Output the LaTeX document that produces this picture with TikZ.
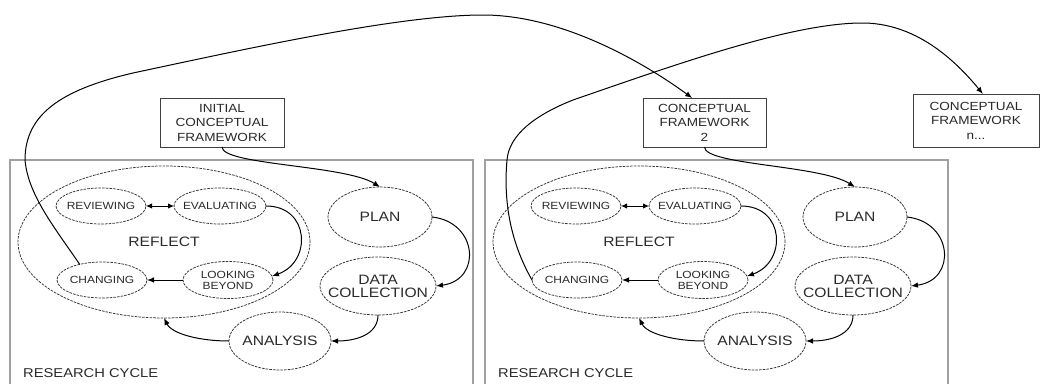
\documentclass[tikz,border=0pt]{standalone}
\usepackage{fontspec}
\setmainfont{Liberation Sans}[FakeStretch=1.15]
\usetikzlibrary{shapes.geometric,arrows.meta,calc}
\definecolor{txt}{HTML}{2A2A2A}
\definecolor{framec}{HTML}{A0A0A0}
\definecolor{dashc}{HTML}{333333}
\newcommand\rcpanel[2]{%
\begin{scope}[shift={(#2,0)}]
 \draw[panelframe] (10,160) rectangle (473,400);
 \node[ell, minimum width=292pt, minimum height=152pt] (#1refl) at (164,242) {};
 \node[ell, minimum width=90pt, minimum height=36pt] (#1rev) at (101,206) {};
 \node[ell, minimum width=92pt, minimum height=36pt] (#1eval) at (220,206) {};
 \node[ell, minimum width=90pt, minimum height=36pt] (#1chg) at (102,280) {};
 \node[ell, minimum width=90pt, minimum height=37pt] (#1look) at (228,280) {};
 \node[ell, minimum width=104pt, minimum height=60pt] (#1plan) at (380,217) {};
 \node[ell, minimum width=116pt, minimum height=58pt] (#1dc) at (378,286) {};
 \node[ell, minimum width=102pt, minimum height=58pt] (#1ana) at (280,341) {};
 \node[lblbig] (#1refltxt) at (#1refl) {REFLECT};
 \node[lblsmall] (#1revtxt) at (#1rev) {REVIEWING};
 \node[lblsmall] (#1evaltxt) at (#1eval) {EVALUATING};
 \node[lblsmall] (#1chgtxt) at (#1chg) {CHANGING};
 \node[lblsmall] (#1looktxt) at (#1look) {LOOKING\\BEYOND};
 \node[lblbig] (#1plantxt) at (#1plan) {PLAN};
 \node[lblbig] (#1dctxt) at (#1dc) {DATA\\COLLECTION};
 \node[lblbig] (#1anatxt) at (#1ana) {ANALYSIS};
 \node[lblrc, anchor=west] (#1rc) at (23,373) {RESEARCH CYCLE};
 \draw[dconn] (#1rev.east) -- (#1eval.west);
 \draw[conn] (#1eval.east) .. controls (310,206) and (312,262) .. (#1look.5);
 \draw[conn] (#1look.west) -- (#1chg.east);
 \draw[conn] (#1plan.east) .. controls (478,222) and (482,280) .. (#1dc.east);
 \draw[conn] (#1dc.south) .. controls (378,335) and (355,341) .. (#1ana.east);
 \draw[conn] (#1ana.west) .. controls (200,341) and (172,334) .. (#1refl.south);
\end{scope}}
\begin{document}
\begin{tikzpicture}[x=1pt,y=-1pt,
  ell/.style={ellipse, draw=dashc, dash pattern=on 2.6pt off 1.1pt, line width=0.75pt, inner sep=0pt, outer sep=0pt},
  lblbig/.style={text=txt, font=\fontsize{13.6}{13}\selectfont, align=center, inner sep=0pt},
  lblsmall/.style={text=txt, font=\fontsize{10.4}{11}\selectfont, align=center, inner sep=0pt},
  lblrc/.style={text=txt, font=\fontsize{12.8}{13}\selectfont, inner sep=0pt},
  cfbox/.style={draw=black!75, line width=0.9pt, inner sep=0pt, outer sep=0pt, text=txt, font=\fontsize{11.8}{14.5}\selectfont, align=center},
  conn/.style={line width=1pt, -{Latex[length=7pt,width=5.5pt]}},
  dconn/.style={line width=1pt, {Latex[length=6pt,width=5.5pt]}-{Latex[length=6pt,width=5.5pt]}},
  panelframe/.style={draw=framec, line width=1.3pt}]
\useasboundingbox[fill=white] (0,0) rectangle (1040,383);
\rcpanel{a}{0}
\rcpanel{b}{475}
\node[cfbox, minimum width=124pt, minimum height=49pt] (icf) at (222,122.5) {INITIAL\\CONCEPTUAL\\FRAMEWORK};
\node[cfbox, minimum width=123pt, minimum height=49pt] (cf2) at (704.5,122.5) {CONCEPTUAL\\FRAMEWORK\\2};
\node[cfbox, minimum width=126pt, minimum height=53pt] (cfn) at (976,120.5) {CONCEPTUAL\\FRAMEWORK\\n...};
\draw[conn] (icf.south) .. controls +(0,18) and +(-35,-22) .. (aplan.north);
\draw[conn] (cf2.south) .. controls +(0,18) and +(-35,-22) .. (bplan.north);
\draw[conn] (achg.145) .. controls (55,228) and (28,195) .. (25,160)
  .. controls (25,115) and (60,90) .. (133,73)
  .. controls (250,48) and (400,15) .. (483,15)
  .. controls (560,15) and (640,60) .. ($(cf2.north west)!0.4!(cf2.north east)$);
\draw[conn] (bchg.west) .. controls (512,245) and (503,205) .. (507,160)
  .. controls (509,135) and (535,115) .. (573,100)
  .. controls (680,63) and (790,24) .. (860,23)
  .. controls (915,22) and (955,60) .. ($(cfn.north west)!0.555!(cfn.north east)$);
\end{tikzpicture}
\end{document}
